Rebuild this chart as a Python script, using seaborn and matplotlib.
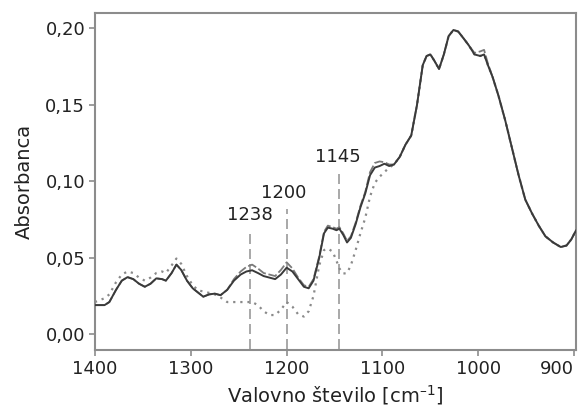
import numpy as np
import pandas as pd
import matplotlib
matplotlib.use("Agg")
import matplotlib.pyplot as plt
import seaborn as sns

wavenumber = [1400, 1390, 1385, 1378, 1372, 1366, 1360, 1354, 1348, 1342, 1336, 1330, 1326, 1320,
              1315, 1310, 1304, 1298, 1292, 1287, 1281, 1275, 1269, 1262, 1255, 1248, 1242, 1236,
              1230, 1224, 1218, 1212, 1206, 1200, 1194, 1188, 1182, 1177, 1172, 1166, 1161, 1157,
              1152, 1148, 1145, 1141, 1137, 1133, 1128, 1123, 1118, 1113, 1108, 1103, 1098, 1093,
              1088, 1082, 1076, 1070, 1064, 1058, 1054, 1050, 1046, 1041, 1036, 1031, 1026, 1021,
              1016, 1010, 1004, 998, 994, 990, 985, 979, 972, 965, 958, 951, 944, 937, 930, 922,
              914, 908, 903, 898]

solid = [0.019, 0.019, 0.021, 0.029, 0.035, 0.0373, 0.036, 0.033, 0.031, 0.033, 0.0365, 0.036, 0.035, 0.040,
         0.0455, 0.042, 0.035, 0.030, 0.027, 0.0245, 0.026, 0.0265, 0.0255, 0.029, 0.035, 0.039, 0.041, 0.0418,
         0.040, 0.038, 0.037, 0.036, 0.039, 0.0435, 0.041, 0.036, 0.031, 0.030, 0.035, 0.050, 0.066, 0.0697,
         0.069, 0.068, 0.069, 0.065, 0.060, 0.063, 0.072, 0.083, 0.092, 0.104, 0.109, 0.110, 0.1115, 0.110,
         0.111, 0.116, 0.124, 0.130, 0.150, 0.176, 0.182, 0.183, 0.179, 0.1735, 0.183, 0.195, 0.199, 0.198,
         0.194, 0.189, 0.183, 0.182, 0.183, 0.176, 0.168, 0.156, 0.140, 0.122, 0.104, 0.088, 0.079, 0.071, 0.064, 0.060,
         0.057, 0.058, 0.062, 0.068]

dashed = [0.019, 0.019, 0.021, 0.029, 0.035, 0.0373, 0.036, 0.033, 0.031, 0.033, 0.0365, 0.036, 0.035, 0.040,
          0.0455, 0.042, 0.035, 0.030, 0.027, 0.0245, 0.026, 0.0265, 0.0255, 0.029, 0.036, 0.041, 0.044, 0.0455,
          0.043, 0.040, 0.039, 0.038, 0.042, 0.047, 0.043, 0.037, 0.032, 0.031, 0.036, 0.051, 0.067, 0.071,
          0.070, 0.069, 0.070, 0.066, 0.061, 0.064, 0.073, 0.084, 0.093, 0.106, 0.112, 0.113, 0.1125, 0.111,
          0.111, 0.116, 0.124, 0.130, 0.150, 0.176, 0.182, 0.183, 0.179, 0.1735, 0.183, 0.195, 0.199, 0.198,
          0.194, 0.189, 0.184, 0.185, 0.186, 0.177, 0.168, 0.156, 0.140, 0.122, 0.104, 0.088, 0.079, 0.071, 0.064, 0.060,
          0.057, 0.058, 0.062, 0.068]

dotted = [0.021, 0.0235, 0.026, 0.034, 0.039, 0.041, 0.040, 0.037, 0.035, 0.037, 0.040, 0.041, 0.040, 0.045,
          0.0495, 0.046, 0.038, 0.032, 0.0285, 0.028, 0.027, 0.026, 0.024, 0.021, 0.021, 0.021, 0.021, 0.021,
          0.019, 0.015, 0.0125, 0.0125, 0.016, 0.021, 0.018, 0.013, 0.0115, 0.015, 0.025, 0.045, 0.055, 0.056,
          0.054, 0.048, 0.043, 0.0396, 0.040, 0.045, 0.055, 0.066, 0.076, 0.090, 0.099, 0.103, 0.106, 0.109,
          0.111, 0.116, 0.124, 0.130, 0.150, 0.176, 0.182, 0.183, 0.179, 0.1735, 0.183, 0.195, 0.199, 0.198,
          0.194, 0.189, 0.183, 0.182, 0.183, 0.176, 0.168, 0.156, 0.140, 0.122, 0.104, 0.088, 0.079, 0.071, 0.064, 0.060,
          0.057, 0.058, 0.062, 0.068]

marker_positions = [1238, 1200, 1145]
marker_tops = [0.069, 0.082, 0.106]
marker_labels = ["1238", "1200", "1145"]
marker_label_y = [0.0778, 0.0925, 0.1157]
marker_label_x = [1238, 1203, 1147]

x_ticks = [1400, 1300, 1200, 1100, 1000, 900]
y_ticks = [0.00, 0.05, 0.10, 0.15, 0.20]
y_tick_labels = ["0,00", "0,05", "0,10", "0,15", "0,20"]

sns.set_style("ticks")
plt.rcParams['font.family'] = ['DejaVu Sans']
plt.rcParams['mathtext.fontset'] = 'dejavusans'

fig = plt.figure(figsize=(5.79, 4.12), dpi=100)
ax = fig.add_axes([0.164, 0.150, 0.831, 0.818])

df = pd.DataFrame({"w": wavenumber, "solid": solid, "dashed": dashed, "dotted": dotted})

# vertical marker lines
for xm, top in zip(marker_positions, marker_tops):
    ax.plot([xm, xm], [-0.01, top], color="#9a9a9a", lw=1.2, ls=(0, (6, 3)), zorder=1)

sns.lineplot(data=df, x="w", y="dotted", ax=ax, color="#8a8a8a", lw=1.6, ls=(0, (1, 2.2)), sort=False, zorder=2)
sns.lineplot(data=df, x="w", y="dashed", ax=ax, color="#7a7a7a", lw=1.3, ls=(0, (5, 1.5)), sort=False, zorder=3)
sns.lineplot(data=df, x="w", y="solid", ax=ax, color="#3a3a3a", lw=1.4, sort=False, zorder=4)

for lx, ly, lab in zip(marker_label_x, marker_label_y, marker_labels):
    ax.text(lx, ly, lab, ha="center", va="center", fontsize=13, color="#222222")

ax.set_xlim(1400, 898)
ax.set_ylim(-0.0105, 0.21)
ax.set_xticks(x_ticks)
ax.set_xticklabels([str(t) for t in x_ticks])
ax.set_yticks(y_ticks)
ax.set_yticklabels(y_tick_labels)
labels = ax.get_xticklabels()
labels[-1].set_horizontalalignment("right")

for s in ax.spines.values():
    s.set_visible(True)
    s.set_color("#8c8c8c")
    s.set_linewidth(1.5)

ax.tick_params(axis="both", direction="out", length=4, width=1.2, color="#8c8c8c",
               labelsize=13, labelcolor="#222222", pad=3)
ax.set_xlabel("Valovno število [cm$^{\u2013 1}$]", fontsize=14, color="#222222", labelpad=4)
ax.set_ylabel("Absorbanca", fontsize=14, color="#222222", labelpad=8)

fig.savefig("out.png", dpi=100)
